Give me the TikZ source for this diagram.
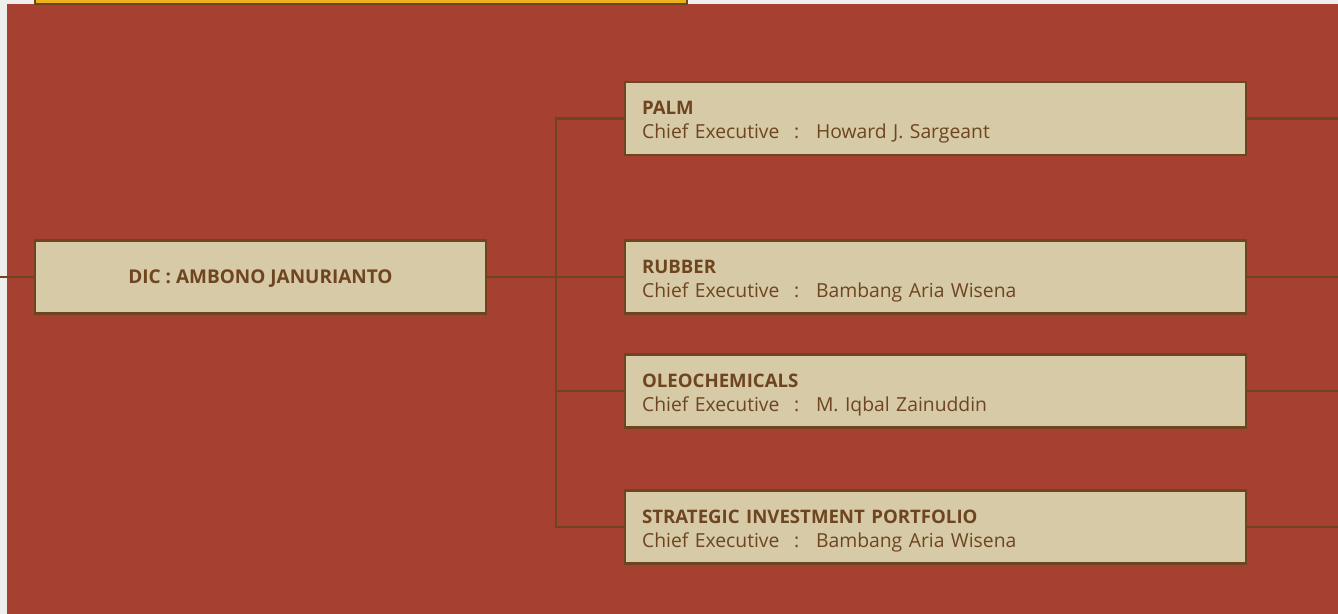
\documentclass[tikz,border=0pt]{standalone}
\usepackage{fontspec}
\setmainfont{Open Sans}
\usetikzlibrary{positioning}
\definecolor{bgred}{HTML}{A64132}
\definecolor{boxfill}{HTML}{D6CAA7}
\definecolor{boxline}{HTML}{6E4520}
\definecolor{paper}{HTML}{EEEEEC}
\definecolor{gold}{HTML}{EDB11C}
\tikzset{
  unitbox/.style={draw=boxline,line width=1.2pt,fill=boxfill,text=boxline,
    minimum width=12.42cm,minimum height=1.46cm,text width=11.74cm,
    inner xsep=0.34cm,align=left,font=\fontsize{11}{13.9}\selectfont},
  headbox/.style={draw=boxline,line width=1.2pt,fill=boxfill,text=boxline,
    minimum width=9.02cm,minimum height=1.46cm,text depth=0pt,
    font=\fontsize{10.8}{13.6}\selectfont\bfseries},
  link/.style={draw=boxline,line width=1.2pt}
}
\newcommand{\unittitle}[1]{{\fontsize{10.6}{13.9}\selectfont\bfseries\rule{0pt}{12pt}#1}}
\newcommand{\chiefline}[1]{\makebox[3.04cm][l]{Chief Executive}\makebox[0.44cm][l]{:}#1}
\begin{document}
\begin{tikzpicture}[x=0.02cm,y=-0.02cm]
\useasboundingbox (0,0) rectangle (1338,614);

% backdrop
\fill[paper] (0,0) rectangle (1338,614);
\fill[bgred] (7,4) rectangle (1338,614);
\draw[boxline,line width=1pt,fill=gold] (35,-20) rectangle (687,4);

% boxes
\node[headbox] (dic) at (260.5,277) {DIC : AMBONO JANURIANTO};
\node[unitbox] (palm) at (935.5,118.5) {\unittitle{PALM}\\\chiefline{Howard J. Sargeant}};
\node[unitbox] (rubber) at (935.5,277) {\unittitle{RUBBER}\\\chiefline{Bambang Aria Wisena}};
\node[unitbox] (oleo) at (935.5,391) {\unittitle{OLEOCHEMICALS}\\\chiefline{M. Iqbal Zainuddin}};
\node[unitbox] (sip) at (935.5,527) {\unittitle{STRATEGIC INVESTMENT PORTFOLIO}\\\chiefline{Bambang Aria Wisena}};

% connectors
\coordinate (in) at (0,277);
\coordinate (trunk) at (556,277);
\draw[link] (in) -- (dic.west);
\draw[link] (dic.east) -- (rubber.west);
\draw[link] (palm.west) -| (trunk) |- (sip.west);
\draw[link] (trunk) |- (oleo.west);

\foreach \u in {palm,rubber,oleo,sip}{
  \draw[link] (\u.east) -- (1338,0 |- \u.east);
}
\end{tikzpicture}
\end{document}
